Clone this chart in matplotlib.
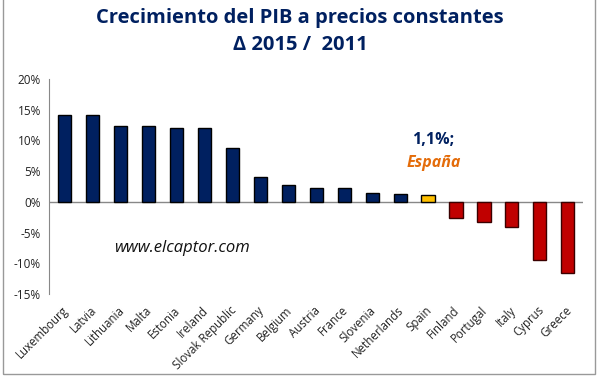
import matplotlib.pyplot as plt
from matplotlib.patches import Rectangle
from matplotlib.ticker import FuncFormatter

countries = ["Luxembourg", "Latvia", "Lithuania", "Malta", "Estonia", "Ireland",
             "Slovak Republic", "Germany", "Belgium", "Austria", "France", "Slovenia",
             "Netherlands", "Spain", "Finland", "Portugal", "Italy", "Cyprus", "Greece"]
growth = [14.2, 14.2, 12.3, 12.3, 12.1, 12.1, 8.8, 4.1, 2.8, 2.2, 2.2, 1.5,
          1.2, 1.1, -2.6, -3.3, -4.1, -9.4, -11.6]

navy = "#002060"
colors = []
edges = []
for c, v in zip(countries, growth):
    if c == "Spain":
        colors.append("#FFC000")
        edges.append("black")
    elif v < 0:
        colors.append("#C00000")
        edges.append("#3a0000")
    else:
        colors.append(navy)
        edges.append("black")

plt.rcParams['font.family'] = ['Open Sans', 'DejaVu Sans']

fig = plt.figure(figsize=(6, 3.76), dpi=100)
ax = fig.add_axes([0.082, 0.218, 0.89, 0.572])

x = range(len(countries))
ax.bar(x, growth, width=0.47, color=colors, edgecolor=edges, linewidth=1, zorder=3)

ax.set_xlim(-0.55, len(countries) - 0.45)
ax.set_ylim(-15, 20)
ax.set_yticks(range(-15, 21, 5))
ax.yaxis.set_major_formatter(FuncFormatter(lambda v, p: "%d%%" % v))
ax.tick_params(axis='y', length=0, labelsize=8.5, colors="#222222", pad=6)
ax.tick_params(axis='x', length=0)
ax.set_xticks(list(x))
ax.set_xticklabels([])

for s in ["top", "right", "bottom"]:
    ax.spines[s].set_visible(False)
ax.spines["left"].set_color("#888888")
ax.axhline(0, color="#888888", linewidth=1, zorder=2)

for i, c in enumerate(countries):
    ax.annotate(c, xy=(i, -15), xycoords='data', xytext=(-2, -7),
                textcoords='offset points', rotation=45, ha='right', va='top',
                rotation_mode='anchor', fontsize=8.3, color="#222222")

fig.text(0.5, 0.952, "Crecimiento del PIB a precios constantes", ha='center', va='center',
         fontsize=14.5, fontweight='bold', color=navy)
fig.text(0.5, 0.88, "Δ 2015 /  2011", ha='center', va='center',
         fontsize=14.5, fontweight='bold', color=navy)

ax.text(13.2, 10, "1,1%;", ha='center', va='center', fontsize=11.5,
        fontweight='bold', color=navy)
ax.text(13.2, 6.3, "España", ha='center', va='center', fontsize=11.5,
        fontweight='bold', fontstyle='italic', color="#E46C0A")
ax.text(4.2, -7.5, "www.elcaptor.com", ha='center', va='center', fontsize=12,
        fontstyle='italic', color="#111111")

fig.patches.append(Rectangle((0.005, 0.005), 0.987, 1.1, transform=fig.transFigure,
                             fill=False, edgecolor="#999999", linewidth=1))

fig.savefig("out.png", dpi=100)
